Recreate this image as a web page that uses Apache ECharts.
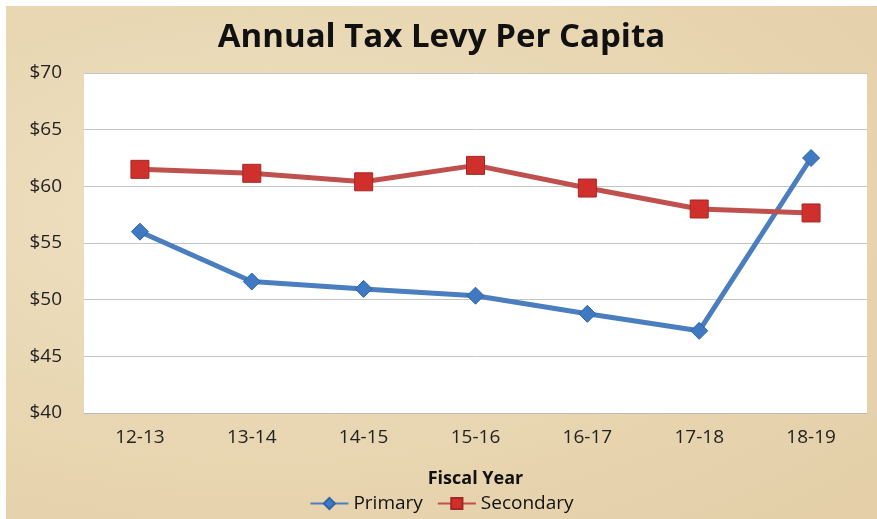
<!DOCTYPE html>
<html><head><meta charset="utf-8">
<script src="https://cdn.jsdelivr.net/npm/echarts@6/dist/echarts.min.js"></script>
<style>
html,body{margin:0;padding:0;background:#fff;width:877px;height:519px;overflow:hidden;}
#c{position:absolute;left:6px;top:6px;width:871px;height:513px;
background:radial-gradient(ellipse at 30% 40%,#efe1c3 0%,#e9d7b3 50%,#e3cea7 100%);}
</style></head>
<body><div id="c"></div>
<script>
const categories = ['12-13','13-14','14-15','15-16','16-17','17-18','18-19'];
const primary = [56.0, 51.6, 50.95, 50.35, 48.75, 47.25, 62.5];
const secondary = [61.5, 61.15, 60.4, 61.85, 59.85, 58.0, 57.65];
const chart = echarts.init(document.getElementById('c'));
const font = '"Open Sans", "Liberation Sans", sans-serif';
chart.setOption({
  backgroundColor: 'transparent',
  animation: false,
  title: {text: 'Annual Tax Levy Per Capita', left: 'center', top: 10,
    textStyle: {fontFamily: font, fontWeight: 'bold', fontSize: 33, color: '#111'}},
  legend: {bottom: 1, left: 'center', itemWidth: 38, itemHeight: 14, itemGap: 14,
    textStyle: {fontFamily: font, fontSize: 19, color: '#111'},
    data: ['Primary','Secondary']},
  grid: {left: 78, right: 10, top: 67, bottom: 106, show: true, backgroundColor: '#fff', borderWidth: 0},
  xAxis: {type: 'category', data: categories, name: 'Fiscal Year', nameLocation: 'middle', nameGap: 57,
    nameTextStyle: {fontFamily: font, fontWeight: 'bold', fontSize: 18, color: '#111'},
    axisLine: {lineStyle: {color: '#bbb'}}, axisTick: {show: false},
    axisLabel: {fontFamily: font, fontSize: 19, color: '#222', margin: 15}},
  yAxis: {type: 'value', min: 40, max: 70, interval: 5,
    axisLine: {show: false}, axisTick: {show: false},
    splitLine: {lineStyle: {color: '#c4c4c4', width: 1}},
    axisLabel: {fontFamily: font, fontSize: 19, color: '#222', margin: 22, formatter: v => '$' + v}},
  series: [
    {name: 'Primary', type: 'line', data: primary, symbol: 'diamond', symbolSize: 17,
      lineStyle: {color: '#4a7ebf', width: 5}, itemStyle: {color: '#3f79c2', borderColor: '#2f64a8', borderWidth: 1}},
    {name: 'Secondary', type: 'line', data: secondary, symbol: 'rect', symbolSize: 18,
      lineStyle: {color: '#c0504d', width: 5}, itemStyle: {color: '#d0302c', borderColor: '#a32825', borderWidth: 1}}
  ]
});
</script></body></html>
